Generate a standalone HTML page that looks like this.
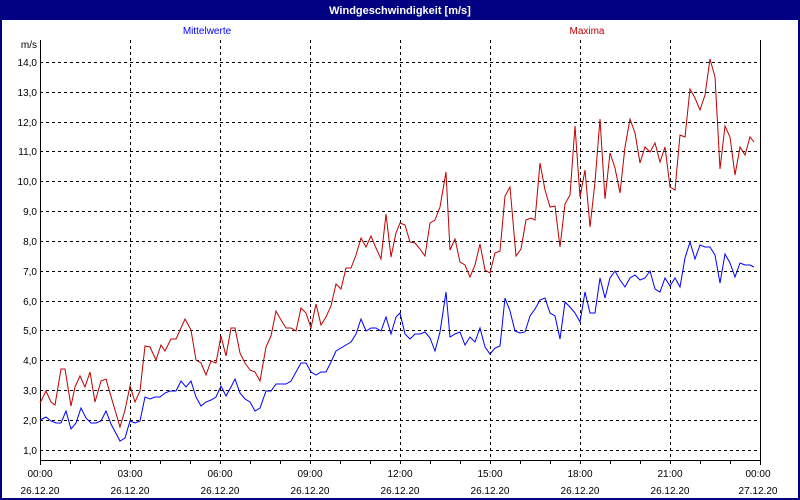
<!DOCTYPE html>
<html><head><meta charset="utf-8"><style>
html,body{margin:0;padding:0;background:#fff;}
svg{display:block;font-family:"Liberation Sans",sans-serif;}
</style></head><body>
<svg width="800" height="500" viewBox="0 0 800 500" xmlns="http://www.w3.org/2000/svg">
<rect x="0" y="0" width="800" height="500" fill="#000080"/>
<rect x="2" y="20" width="796" height="478" fill="#fff"/>
<text x="400" y="14" fill="#fff" font-size="11" font-weight="bold" text-anchor="middle">Windgeschwindigkeit [m/s]</text>
<text x="207" y="34" fill="#0000ff" font-size="10" text-anchor="middle">Mittelwerte</text>
<text x="587" y="34" fill="#c00000" font-size="10" text-anchor="middle">Maxima</text>
<g stroke="#000" stroke-width="1" stroke-dasharray="3,3" shape-rendering="crispEdges">
<line x1="40" x2="760" y1="450.5" y2="450.5"/><line x1="40" x2="760" y1="420.5" y2="420.5"/>
<line x1="40" x2="760" y1="390.5" y2="390.5"/><line x1="40" x2="760" y1="360.5" y2="360.5"/>
<line x1="40" x2="760" y1="330.5" y2="330.5"/><line x1="40" x2="760" y1="301.5" y2="301.5"/>
<line x1="40" x2="760" y1="271.5" y2="271.5"/><line x1="40" x2="760" y1="241.5" y2="241.5"/>
<line x1="40" x2="760" y1="211.5" y2="211.5"/><line x1="40" x2="760" y1="181.5" y2="181.5"/>
<line x1="40" x2="760" y1="151.5" y2="151.5"/><line x1="40" x2="760" y1="122.5" y2="122.5"/>
<line x1="40" x2="760" y1="92.5" y2="92.5"/><line x1="40" x2="760" y1="62.5" y2="62.5"/>
<line x1="130.5" x2="130.5" y1="40" y2="460"/><line x1="220.5" x2="220.5" y1="40" y2="460"/>
<line x1="310.5" x2="310.5" y1="40" y2="460"/><line x1="400.5" x2="400.5" y1="40" y2="460"/>
<line x1="490.5" x2="490.5" y1="40" y2="460"/><line x1="580.5" x2="580.5" y1="40" y2="460"/>
<line x1="670.5" x2="670.5" y1="40" y2="460"/>
</g>
<g stroke="#000" stroke-width="1" shape-rendering="crispEdges">
<line x1="40.5" x2="40.5" y1="40" y2="465"/><line x1="760.5" x2="760.5" y1="40" y2="465"/>
<line x1="40" x2="761" y1="460.5" y2="460.5"/>
<path d="M70.5 460v4M100.5 460v4M130.5 460v4M160.5 460v4M190.5 460v4M220.5 460v4M250.5 460v4M280.5 460v4M310.5 460v4M340.5 460v4M370.5 460v4M400.5 460v4M430.5 460v4M460.5 460v4M490.5 460v4M520.5 460v4M550.5 460v4M580.5 460v4M610.5 460v4M640.5 460v4M670.5 460v4M700.5 460v4M730.5 460v4"/>
</g>
<g font-size="10" fill="#000" text-anchor="end">
<text x="37" y="48">m/s</text>
<text x="37" y="454">1,0</text><text x="37" y="424">2,0</text><text x="37" y="394">3,0</text>
<text x="37" y="364">4,0</text><text x="37" y="334">5,0</text><text x="37" y="305">6,0</text>
<text x="37" y="275">7,0</text><text x="37" y="245">8,0</text><text x="37" y="215">9,0</text>
<text x="37" y="185">10,0</text><text x="37" y="155">11,0</text><text x="37" y="126">12,0</text>
<text x="37" y="96">13,0</text><text x="37" y="66">14,0</text>
</g>
<g font-size="10" fill="#000" text-anchor="middle">
<text x="40" y="477">00:00</text><text x="130" y="477">03:00</text><text x="220" y="477">06:00</text>
<text x="310" y="477">09:00</text><text x="400" y="477">12:00</text><text x="490" y="477">15:00</text>
<text x="580" y="477">18:00</text><text x="670" y="477">21:00</text><text x="758" y="477">00:00</text>
<text x="40" y="494">26.12.20</text><text x="130" y="494">26.12.20</text><text x="220" y="494">26.12.20</text>
<text x="310" y="494">26.12.20</text><text x="400" y="494">26.12.20</text><text x="490" y="494">26.12.20</text>
<text x="580" y="494">26.12.20</text><text x="670" y="494">26.12.20</text><text x="758" y="494">27.12.20</text>
</g>
<polyline fill="none" stroke="#c00000" stroke-width="1" points="40,403 46,391 51,402 55,405 61,369 65,369 71,406 75,387 80,376 85,387 90,372 95,402 101,381 106,379 110,393 120,427 125,410 130,386 135,402 140,391 145,346 150,347 156,360 161,345 165,351 171,339 176,339 185,319 191,330 196,360 201,363 206,375 211,361 216,363 221,336 226,356 231,328 235,328 240,353 245,363 250,370 255,372 260,381 266,347 271,336 276,311 281,320 286,328 291,328 296,331 301,308 306,313 311,328 316,304 321,325 326,317 331,306 336,284 341,289 346,268 351,268 356,255 361,238 366,247 371,236 376,248 381,259 386,214 391,257 396,233 400,223 405,225 410,242 415,243 420,249 425,256 430,223 435,220 440,207 446,172 450,250 455,239 460,262 465,265 470,277 475,265 480,244 485,270 490,273 495,253 500,251 505,196 510,187 516,256 521,249 526,220 531,218 535,220 540,163 545,190 550,207 555,206 560,247 565,204 570,195 575,126 580,197 585,170 590,227 595,182 600,119 605,199 610,153 615,168 620,193 625,147 630,119 635,133 640,163 645,147 650,152 655,143 660,162 665,147 670,187 675,190 680,135 685,137 690,89 695,98 700,110 705,95 710,59 715,77 720,169 725,126 730,137 735,175 740,147 745,155 750,137 754,142"/>
<polyline fill="none" stroke="#0000ff" stroke-width="1" points="40,420 46,417 51,421 56,423 61,423 66,411 71,429 76,423 81,408 86,418 91,423 96,423 101,421 106,411 111,424 120,441 125,438 130,421 135,423 140,421 145,397 150,399 155,397 160,397 165,393 170,391 176,391 181,381 186,387 191,381 196,397 201,406 206,402 211,400 216,397 221,386 226,396 231,387 235,379 240,393 245,399 250,402 255,411 260,408 266,391 271,391 276,384 281,384 286,384 291,381 296,372 301,363 306,363 311,372 316,375 321,372 326,372 331,362 336,351 341,348 346,345 351,342 356,334 361,319 366,331 371,328 376,328 381,331 386,317 391,334 396,317 400,313 405,334 410,339 415,334 420,334 425,332 430,338 435,351 440,332 446,292 450,337 455,334 460,332 465,345 470,337 475,342 480,328 485,347 490,354 495,348 500,346 505,298 510,311 515,331 520,333 525,332 530,316 535,309 540,300 545,298 550,313 555,316 560,339 565,302 570,307 575,313 580,322 585,292 590,313 595,313 600,278 605,298 610,278 615,271 620,280 625,287 630,278 635,275 640,280 645,278 650,271 655,289 660,292 665,278 670,286 675,278 680,287 685,258 690,242 695,259 700,245 705,247 710,247 715,255 720,283 725,254 730,263 735,277 740,263 745,265 750,265 754,267"/>
</svg>
</body></html>
